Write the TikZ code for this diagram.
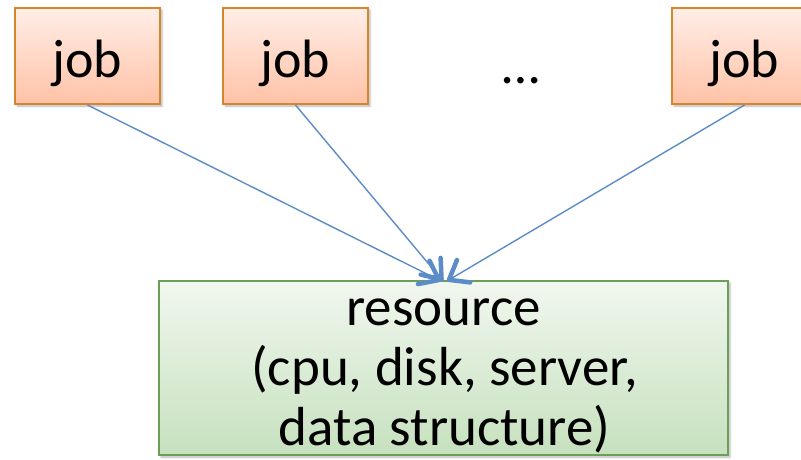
\documentclass[tikz,border=0pt]{standalone}
\usepackage{fontspec}
\setmainfont{Carlito}
\usetikzlibrary{arrows.meta,shadows.blur}
\definecolor{jobborder}{HTML}{D4862C}
\definecolor{jobtop}{HTML}{FFEEE7}
\definecolor{jobbot}{HTML}{FFC2A6}
\definecolor{resborder}{HTML}{6B9F57}
\definecolor{restop}{HTML}{F1F7EF}
\definecolor{resbot}{HTML}{C6E1BE}
\definecolor{arrowblue}{HTML}{5B8CC8}
\tikzset{
  jobbox/.style={draw=jobborder, line width=2pt, top color=jobtop, bottom color=jobbot,
    minimum width=145pt, minimum height=96pt, inner sep=0pt,
    font=\fontsize{54}{59}\selectfont, text height=42pt, text depth=0pt,
    blur shadow={shadow xshift=2pt, shadow yshift=-2pt, shadow blur radius=2pt, shadow opacity=30}},
  resbox/.style={draw=resborder, line width=2pt, top color=restop, bottom color=resbot,
    minimum width=569pt, minimum height=174pt, inner sep=0pt,
    blur shadow={shadow xshift=2pt, shadow yshift=-2pt, shadow blur radius=2pt, shadow opacity=30}},
  restext/.style={anchor=base, inner sep=0pt, font=\fontsize{55}{61}\selectfont},
  flow/.style={draw=arrowblue, line width=1.4pt,
    -{Straight Barb[length=17pt, width=26pt, line width=4.5pt, round]}},
}
\begin{document}
\begin{tikzpicture}[x=1pt, y=-1pt]
\useasboundingbox (0,0) rectangle (801,459);
\node[jobbox] (j1) at (87.5,56) {job};
\node[jobbox] (j2) at (295.5,56) {job};
\node[jobbox] (j3) at (744.5,56) {job};
\node[restext, font=\fontsize{54}{59}\selectfont] (dots) at (521,83) {…};
\node[resbox] (res) at (443.5,368) {};
\node[restext] (r1) at (443.5,325) {resource};
\node[restext] (r2) at (444.5,385) {(cpu, disk, server,};
\node[restext] (r3) at (444.5,445) {data structure)};
\coordinate (e1) at (441,281);
\coordinate (e2) at (443,281);
\coordinate (e3) at (447,281);
\draw[flow] (j1.south) -- (e1);
\draw[flow] (j2.south) -- (e2);
\draw[flow] (j3.south) -- (e3);
\end{tikzpicture}
\end{document}
